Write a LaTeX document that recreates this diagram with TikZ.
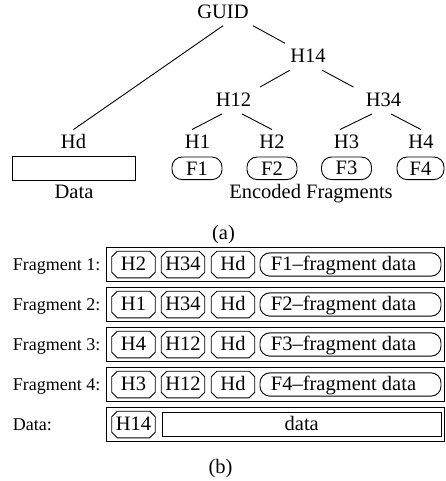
\documentclass[tikz,border=0pt]{standalone}
\usepackage{fontspec}
\setmainfont{Liberation Serif}
\usetikzlibrary{shapes.misc}

\begin{document}
\begin{tikzpicture}[x=1pt, y=-1pt, line width=0.9pt,
    big/.style={font=\fontsize{20.5}{24}\selectfont},
    small/.style={font=\fontsize{18}{21}\selectfont},
    hash/.style={big, inner sep=0pt, text height=19pt, text depth=7pt, anchor=base},
    frag/.style={big, draw, rounded corners=10pt, minimum width=50pt, minimum height=22.5pt, inner sep=0pt},
    field/.style={big, inner sep=0pt, text height=16pt, text depth=3.6pt, minimum height=23.3pt},
    hdr/.style={field, draw, chamfered rectangle, chamfered rectangle xsep=2pt, chamfered rectangle ysep=3.5pt, minimum width=43.5pt, minimum height=22.5pt},
    body/.style={field, draw, rounded corners=10pt, minimum width=181pt},
    packet/.style={draw, minimum width=338pt, minimum height=34.5pt}
]
    \useasboundingbox (0,0) rectangle (445,481);

    % (a) hash tree
    \node[hash] (guid) at (223,18.3) {GUID};
    \node[hash] (h14) at (308,62.7) {H14};
    \node[hash] (h12) at (233.5,106.5) {H12};
    \node[hash] (h34) at (383.5,106.5) {H34};
    \node[hash] (hd) at (73.5,149) {Hd};
    \node[hash] (h1) at (197.5,149) {H1};
    \node[hash] (h2) at (272,149) {H2};
    \node[hash] (h3) at (346.5,149) {H3};
    \node[hash] (h4) at (421,149) {H4};

    \draw (guid.south) -- (hd.north);
    \draw ([xshift=30pt]guid.south) -- ([xshift=-23pt]h14.north);
    \draw ([xshift=-18pt]h14.south) -- ([xshift=26.5pt]h12.north);
    \draw ([xshift=14pt]h14.south) -- ([xshift=-30pt]h34.north);
    \draw ([xshift=-11.5pt]h12.south) -- ([xshift=-5.5pt]h1.north);
    \draw ([xshift=8.5pt]h12.south) -- (h2.north);
    \draw ([xshift=-11.5pt]h34.south) -- ([xshift=-6.5pt]h3.north);
    \draw ([xshift=7.5pt]h34.south) -- (h4.north);

    \node[draw, minimum width=123pt, minimum height=24.5pt] (data) at (73.5,168.5) {};
    \node[frag] (f1) at (197,168.3) {F1};
    \node[frag] (f2) at (272,168.3) {F2};
    \node[frag] (f3) at (346.5,168.3) {F3};
    \node[frag, minimum width=47pt] (f4) at (420.5,168.3) {F4};

    \node[big, anchor=base] (datalbl) at (74,198.3) {Data};
    \node[big, anchor=base] (enclbl) at (311,198.3) {Encoded Fragments};
    \node[big, anchor=base] (capa) at (223.5,239) {(a)};

    % (b) fragment layout
    \foreach \i/\ha/\hb/\f in {1/H2/H34/F1, 2/H1/H34/F2, 3/H4/H12/F3, 4/H3/H12/F4} {
        \pgfmathsetmacro{\y}{264.5+40*(\i-1)}
        \node[small, anchor=base west] (lbl\i) at (9,\y+6.2) {Fragment \i:};
        \node[packet] (pkt\i) at (275,\y) {};
        \node[hdr] (ha\i) at (133.5,\y) {\ha};
        \node[hdr] (hb\i) at (183,\y) {\hb};
        \node[hdr] (hc\i) at (233,\y) {Hd};
        \node[body] (fd\i) at (350.5,\y) {\f--fragment data\hspace*{14pt}};
    }
    \node[small, anchor=base west] (lbl5) at (9,430.7) {Data:};
    \node[packet] (pkt5) at (275,424.5) {};
    \node[hdr] (ha5) at (133.5,424.5) {H14};
    \node[field, draw, minimum width=279.5pt] (dd5) at (301.75,424.5) {data};

    \node[big, anchor=base] (capb) at (220.5,473.3) {(b)};
\end{tikzpicture}
\end{document}
